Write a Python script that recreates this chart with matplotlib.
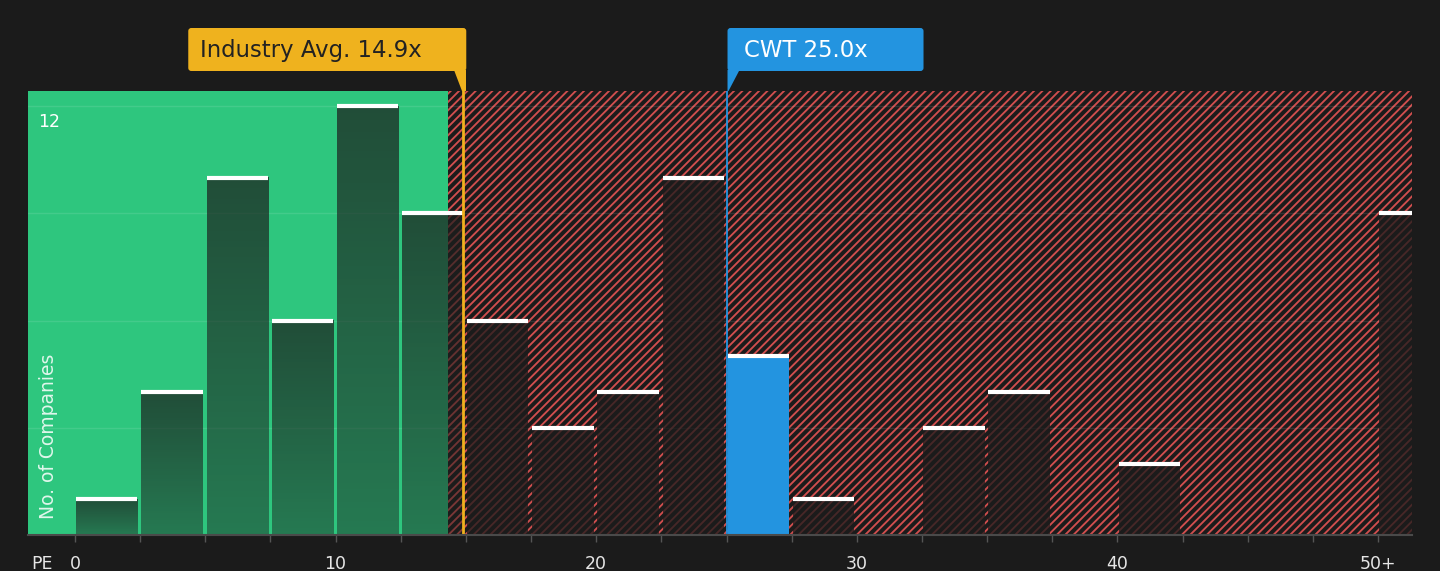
import numpy as np
import matplotlib.pyplot as plt
from matplotlib.patches import Rectangle, Polygon, FancyBboxPatch

# PE histogram data (bin left edges, last bin is 50+)
bin_edges = [0, 2.5, 5, 7.5, 10, 12.5, 15, 17.5, 20, 22.5, 25, 27.5,
             30, 32.5, 35, 37.5, 40, 42.5, 45, 47.5, 50]
counts = [1, 4, 10, 6, 12, 9, 6, 3, 4, 10, 5, 1,
          0, 3, 4, 0, 2, 0, 0, 0, 9]
tick_labels = {0: '0', 10: '10', 20: '20', 30: '30', 40: '40', 50: '50+'}

industry_avg = 14.9
company = 'CWT'
company_pe = 25.0
fair_end = 14.3   # end of the green zone

BG = '#1b1b1b'
GREEN = '#2ec67e'
RED = '#d04e4e'
YELLOW = '#efb21e'
BLUE = '#2394e0'

W, H = 1440, 571
plt.rcParams['hatch.linewidth'] = 1.35
fig = plt.figure(figsize=(W / 100, H / 100), dpi=100, facecolor=BG)
ax = fig.add_axes([28 / W, 36 / H, 1384 / W, 444 / H])
ax.set_facecolor(BG)

xmin, xmax = -1.8, 51.3
ymax = 12.42

# background zones
ax.add_patch(Rectangle((xmin - 1, 0), fair_end - xmin + 1, ymax + 1,
                       facecolor=GREEN, lw=0, zorder=0))
ax.add_patch(Rectangle((fair_end, 0), xmax - fair_end + 5, ymax + 1,
                       facecolor=BG, edgecolor=RED, hatch='////', lw=0, zorder=0))

# bars
bar_w = 2.35
dark = np.array([0.11, 0.12, 0.115])
for edge, c in zip(bin_edges, counts):
    if c == 0:
        continue
    x0 = edge + 0.05
    if edge == company_pe:
        ax.add_patch(Rectangle((x0, 0), bar_w, c, facecolor=BLUE, lw=0, zorder=2))
    elif edge < fair_end:
        grad = np.zeros((64, 1, 4))
        grad[..., :3] = dark
        grad[:, 0, 3] = np.linspace(0.72, 0.46, 64)
        ax.imshow(grad, extent=(x0, x0 + bar_w, 0, c), aspect='auto',
                  origin='upper', interpolation='bilinear', zorder=2)
    else:
        ax.add_patch(Rectangle((x0, 0), bar_w, c, facecolor=BG, alpha=0.76,
                               lw=0, zorder=2))
    ax.hlines(c, x0, x0 + bar_w, color='white', lw=3, zorder=3,
              capstyle='butt')

ax.axvline(industry_avg, color=YELLOW, lw=2, zorder=4)
ax.axvline(company_pe, color=BLUE, lw=1.3, zorder=4)

ax.set_xlim(xmin, xmax)
ax.set_ylim(0, ymax)

ax.set_yticks([3, 6, 9, 12])
ax.grid(axis='y', color='white', alpha=0.1, lw=1)
ax.set_axisbelow(True)
ax.tick_params(axis='y', length=0, labelleft=False)

ax.set_xticks(bin_edges)
ax.set_xticklabels([tick_labels.get(e, '') for e in bin_edges])
ax.tick_params(axis='x', length=5, width=1, color='#555555',
               labelcolor='#e6e6e6', labelsize=12.5, pad=9.5)
for s in ['top', 'left', 'right']:
    ax.spines[s].set_visible(False)
ax.spines['bottom'].set_color('#4a4a4a')
ax.spines['bottom'].set_linewidth(1.5)
ax.spines['bottom'].set_zorder(5)

ax.annotate('12', xy=(0, 12), xycoords=('axes fraction', 'data'),
            xytext=(7, -5), textcoords='offset points', va='top', ha='left',
            color='white', fontsize=12.5)
ax.text(0.0145, 0.035, 'No. of Companies', transform=ax.transAxes,
        rotation=90, ha='center', va='bottom', color='white', alpha=0.85,
        fontsize=13.5)
fig.text(42 / W, 7 / H, 'PE', ha='center', va='center', color='#e6e6e6',
         fontsize=12.5)

# callout labels (display pixel coords)
top_px = 480
box_lo, box_hi = 500, 543
xa = ax.transData.transform((industry_avg, 0))[0] + 3
fig.add_artist(FancyBboxPatch((xa - 278, box_lo), 278, box_hi - box_lo,
                              boxstyle='round,pad=0,rounding_size=3',
                              facecolor=YELLOW, lw=0,
                              transform=None))
fig.add_artist(Polygon([(xa - 12, box_lo + 1), (xa, box_lo + 1), (xa, top_px),
                        (xa - 4, top_px)], closed=True, facecolor=YELLOW,
                       lw=0, transform=None))
fig.text((xa - 266) / W, (box_lo + box_hi) / 2 / H - 1 / H,
         f'Industry Avg. {industry_avg:.1f}x', ha='left', va='center',
         color='#222222', fontsize=16.4)

xc = ax.transData.transform((company_pe, 0))[0] + 1
fig.add_artist(FancyBboxPatch((xc, box_lo), 196, box_hi - box_lo,
                              boxstyle='round,pad=0,rounding_size=3',
                              facecolor=BLUE, lw=0, transform=None))
fig.add_artist(Polygon([(xc, box_lo + 1), (xc + 12, box_lo + 1), (xc + 1, top_px),
                        (xc, top_px)], closed=True, facecolor=BLUE,
                       lw=0, transform=None))
fig.text((xc + 16) / W, (box_lo + box_hi) / 2 / H - 1 / H,
         f'{company} {company_pe:.1f}x', ha='left', va='center',
         color='white', fontsize=16.4)

fig.savefig('out.png', dpi=100, facecolor=BG)
